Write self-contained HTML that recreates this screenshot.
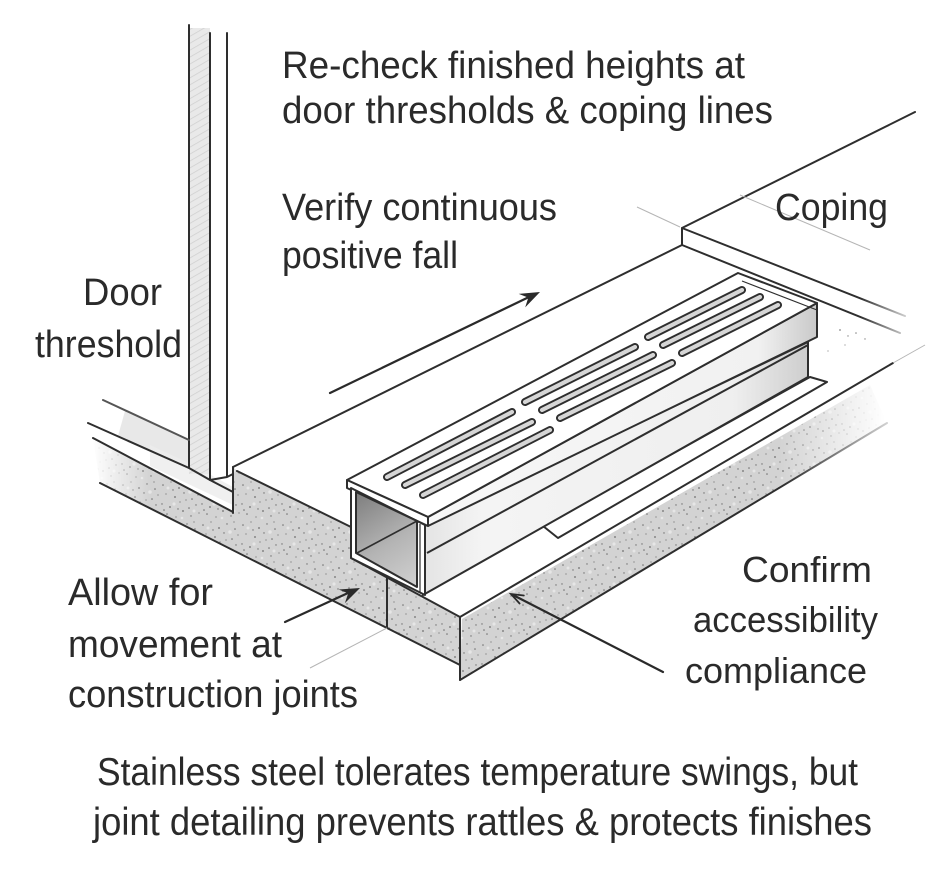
<!DOCTYPE html>
<html>
<head>
<meta charset="utf-8">
<style>
  html,body{margin:0;padding:0;background:#fff;}
  svg{display:block;}
  text{font-family:"Liberation Sans",sans-serif;fill:#2a2a2a;}
</style>
</head>
<body>
<svg width="935" height="879" viewBox="0 0 935 879" xmlns="http://www.w3.org/2000/svg">
<defs>
  <pattern id="spk" width="40" height="40" patternUnits="userSpaceOnUse">
    <rect width="40" height="40" fill="#d3d3d3"/>
    <g fill="#6f6f6f">
      <circle cx="3" cy="5" r="0.8"/><circle cx="11" cy="2" r="0.6"/><circle cx="19" cy="8" r="0.9"/>
      <circle cx="27" cy="4" r="0.7"/><circle cx="35" cy="9" r="0.8"/><circle cx="6" cy="14" r="0.6"/>
      <circle cx="15" cy="17" r="0.9"/><circle cx="24" cy="13" r="0.7"/><circle cx="32" cy="19" r="0.8"/>
      <circle cx="38" cy="15" r="0.6"/><circle cx="2" cy="24" r="0.7"/><circle cx="10" cy="27" r="0.9"/>
      <circle cx="20" cy="22" r="0.6"/><circle cx="29" cy="28" r="0.8"/><circle cx="36" cy="25" r="0.7"/>
      <circle cx="7" cy="34" r="0.8"/><circle cx="16" cy="37" r="0.6"/><circle cx="23" cy="31" r="0.9"/>
      <circle cx="31" cy="36" r="0.7"/><circle cx="39" cy="33" r="0.6"/><circle cx="13" cy="10" r="0.7"/>
      <circle cx="26" cy="20" r="0.6"/><circle cx="4" cy="30" r="0.8"/><circle cx="34" cy="2" r="0.6"/>
      <circle cx="18" cy="29" r="0.7"/>
    </g>
    <g fill="#e6e6e6">
      <circle cx="8" cy="8" r="1.5"/><circle cx="30" cy="12" r="1.8"/><circle cx="14" cy="24" r="1.6"/>
      <circle cx="34" cy="31" r="1.5"/><circle cx="22" cy="38" r="1.3"/>
    </g>
  </pattern>
  <pattern id="hatch" width="6" height="6" patternUnits="userSpaceOnUse" patternTransform="rotate(60)">
    <rect width="6" height="6" fill="#e9e9e9"/>
    <line x1="0" y1="0" x2="0" y2="6" stroke="#cfcfcf" stroke-width="1.5"/>
  </pattern>
  <linearGradient id="fadeR" gradientUnits="userSpaceOnUse" x1="780" y1="0" x2="885" y2="0">
    <stop offset="0" stop-color="#fff" stop-opacity="1"/>
    <stop offset="1" stop-color="#fff" stop-opacity="0"/>
  </linearGradient>
  <linearGradient id="fadeL" gradientUnits="userSpaceOnUse" x1="92" y1="0" x2="150" y2="0">
    <stop offset="0" stop-color="#fff" stop-opacity="0"/>
    <stop offset="1" stop-color="#fff" stop-opacity="1"/>
  </linearGradient>
  <mask id="mR" maskUnits="userSpaceOnUse" x="0" y="0" width="935" height="879">
    <rect x="0" y="0" width="935" height="879" fill="url(#fadeR)"/>
  </mask>
  <mask id="mL" maskUnits="userSpaceOnUse" x="0" y="0" width="935" height="879">
    <rect x="0" y="0" width="935" height="879" fill="url(#fadeL)"/>
  </mask>
  <linearGradient id="open" gradientUnits="userSpaceOnUse" x1="356" y1="491" x2="417" y2="587">
    <stop offset="0" stop-color="#7c7c7c"/>
    <stop offset="0.55" stop-color="#b4b4b4"/>
    <stop offset="1" stop-color="#d2d2d2"/>
  </linearGradient>
  <linearGradient id="body" gradientUnits="userSpaceOnUse" x1="425" y1="0" x2="810" y2="0">
    <stop offset="0" stop-color="#e4e4e4"/>
    <stop offset="0.15" stop-color="#f4f4f4"/>
    <stop offset="0.8" stop-color="#efefef"/>
    <stop offset="1" stop-color="#cdcdcd"/>
  </linearGradient>
  <linearGradient id="lip" gradientUnits="userSpaceOnUse" x1="428" y1="0" x2="817" y2="0">
    <stop offset="0" stop-color="#f7f7f7"/>
    <stop offset="0.85" stop-color="#f1f1f1"/>
    <stop offset="1" stop-color="#c9c9c9"/>
  </linearGradient>
  <linearGradient id="rlineFade" gradientUnits="userSpaceOnUse" x1="460" y1="0" x2="890" y2="0">
    <stop offset="0" stop-color="#2e2e2e"/>
    <stop offset="0.75" stop-color="#2e2e2e"/>
    <stop offset="1" stop-color="#2e2e2e" stop-opacity="0.2"/>
  </linearGradient>
  <linearGradient id="copFade" gradientUnits="userSpaceOnUse" x1="682" y1="0" x2="905" y2="0">
    <stop offset="0" stop-color="#2e2e2e"/>
    <stop offset="0.8" stop-color="#2e2e2e"/>
    <stop offset="1" stop-color="#2e2e2e" stop-opacity="0.25"/>
  </linearGradient>
</defs>

<!-- concrete front face -->
<g mask="url(#mL)">
  <polygon points="93,438 233,512 233,467 237,471 351,527 351,558 460,617 460,665 387,628 100,483" fill="url(#spk)"/>
</g>
<!-- concrete right face -->
<g mask="url(#mR)">
  <polygon points="462,619 870,385 887,423 460,680" fill="url(#spk)"/>
</g>

<!-- light shading on floor behind door -->
<polygon points="125,411 189,440 189,468 118,436" fill="#e2e2e2" opacity="0.8"/>
<polygon points="150,445 189,463 233,487 233,505 150,466" fill="#ececec" opacity="0.8"/>
<!-- sparse speckle on slab near coping -->
<g fill="#888">
  <circle cx="840" cy="330" r="0.9"/><circle cx="848" cy="336" r="0.7"/><circle cx="856" cy="333" r="0.8"/>
  <circle cx="828" cy="351" r="0.6"/><circle cx="865" cy="339" r="0.7"/><circle cx="845" cy="345" r="0.6"/>
</g>

<!-- door frame -->
<rect x="189" y="28" width="21" height="446" fill="url(#hatch)"/>
<g stroke="#2e2e2e" stroke-width="2" fill="none" stroke-linecap="round" stroke-linejoin="round">
  <path d="M189,25 V468 M210,33 V480 M227,33 V477 M189,468 L210,480 L227,477 L233,474"/>
</g>

<!-- floor / slab lines -->
<g stroke="#2e2e2e" stroke-width="2" fill="none" stroke-linecap="round" stroke-linejoin="round">
  <path d="M103,400 L189,440" stroke="#555"/>
  <path d="M88,423 L189,468 M210,480 L233,492" />
  <path d="M93,438 L233,512"/>
  <path d="M100,483 L387,628 L460,665"/>
  <path d="M233,467 V513"/>
  <path d="M233,467 L682,245"/>
  <path d="M237,471 L351,527"/>
  <path d="M387,578 V628"/>
  <path d="M351,558 L460,617 V680"/>
  <path d="M460,617 L893,363"/>
  <path d="M460,680 L887,423" stroke="url(#rlineFade)"/>
  <!-- coping -->
  <path d="M682,245 V228 L915,112"/>
  <path d="M682,228 L905,316" stroke="url(#copFade)"/>
  <path d="M682,245 L900,333" stroke="url(#copFade)"/>
</g>
<g stroke="#b5b5b5" stroke-width="1" fill="none">
  <path d="M637,207 L680,227"/>
  <path d="M740,195 L870,250"/>
  <path d="M310,668 L387,628"/>
  <path d="M893,363 L925,345"/>
</g>

<!-- channel -->
<g stroke="#2e2e2e" stroke-width="2" stroke-linejoin="round">
  <polygon points="543,526 558,538 827,382 810,377" fill="#fff"/>
  <polygon points="425,526 808,342 808,377 423,595" fill="url(#body)"/>
  <path d="M427,553 L808,345" fill="none"/>
  <polygon points="428,517 817,303 817,337 428,526" fill="url(#lip)"/>
  <polygon points="347,480 738,273 817,303 428,517" fill="#fff"/>
  <path d="M742,281 L817,310" fill="none" stroke-width="1.2"/>
  <polygon points="347,480 428,517 428,526 347,488" fill="#fff"/>
  <polygon points="351,488 425,525 425,595 351,558" fill="#fff"/>
  <polygon points="356,492 417,521 417,587 356,553" fill="url(#open)"/>
  <path d="M357,553 L417,521" fill="none" stroke-width="1.6"/>
  <path d="M420,524 V592" fill="none" stroke-width="1.2"/>
</g>

<!-- slots -->
<g stroke="#2e2e2e" stroke-width="8" stroke-linecap="round" fill="none">
  <path d="M648,337 L742,290 M663,345 L760,297 M682,353 L778,305"/>
  <path d="M525,402 L635,347 M542,410 L653,355 M560,418 L672,363"/>
  <path d="M387,477 L512,412 M405,485 L532,422 M423,495 L550,430"/>
</g>
<g stroke="#d6d6d6" stroke-width="4.2" stroke-linecap="round" fill="none">
  <path d="M648,337 L742,290 M663,345 L760,297 M682,353 L778,305"/>
  <path d="M525,402 L635,347 M542,410 L653,355 M560,418 L672,363"/>
  <path d="M387,477 L512,412 M405,485 L532,422 M423,495 L550,430"/>
</g>

<!-- arrows -->
<g stroke="#2a2a2a" stroke-width="2.2" fill="none" stroke-linecap="round">
  <path d="M330,393 L529,297"/>
  <path d="M285,622 L348,593"/>
  <path d="M663,672 L513,595"/>
  <path d="M523.8,595.5 L511,594 L519.6,603.5" stroke-width="1.8"/>
</g>
<g fill="#2a2a2a">
  <path d="M540,292 L518.7,293.9 L528.3,297.6 L525.2,307.4 Z"/>
  <path d="M360,588 L338.7,589.5 L348.2,593.4 L344.9,603.1 Z"/>
</g>

<!-- text -->
<g font-size="38">
  <text x="282" y="78" textLength="463" lengthAdjust="spacingAndGlyphs">Re-check finished heights at</text>
  <text x="282" y="123" textLength="491" lengthAdjust="spacingAndGlyphs">door thresholds &amp; coping lines</text>
  <text x="282" y="220" textLength="275" lengthAdjust="spacingAndGlyphs">Verify continuous</text>
  <text x="282" y="268" textLength="176" lengthAdjust="spacingAndGlyphs">positive fall</text>
  <text x="83" y="305" textLength="79" lengthAdjust="spacingAndGlyphs">Door</text>
  <text x="35" y="357" textLength="147" lengthAdjust="spacingAndGlyphs">threshold</text>
  <text x="775" y="220" textLength="113" lengthAdjust="spacingAndGlyphs">Coping</text>
  <text x="68" y="605" textLength="145" lengthAdjust="spacingAndGlyphs">Allow for</text>
  <text x="68" y="657" textLength="214" lengthAdjust="spacingAndGlyphs">movement at</text>
  <text x="68" y="707" textLength="290" lengthAdjust="spacingAndGlyphs">construction joints</text>
</g>
<g font-size="36">
  <text x="742" y="582" textLength="130" lengthAdjust="spacingAndGlyphs">Confirm</text>
  <text x="693" y="632" textLength="185" lengthAdjust="spacingAndGlyphs">accessibility</text>
  <text x="685" y="683" textLength="182" lengthAdjust="spacingAndGlyphs">compliance</text>
</g>
<g font-size="39">
  <text x="97" y="785" textLength="761" lengthAdjust="spacingAndGlyphs">Stainless steel tolerates temperature swings, but</text>
  <text x="93" y="835" textLength="779" lengthAdjust="spacingAndGlyphs">joint detailing prevents rattles &amp; protects finishes</text>
</g>
</svg>
</body>
</html>
